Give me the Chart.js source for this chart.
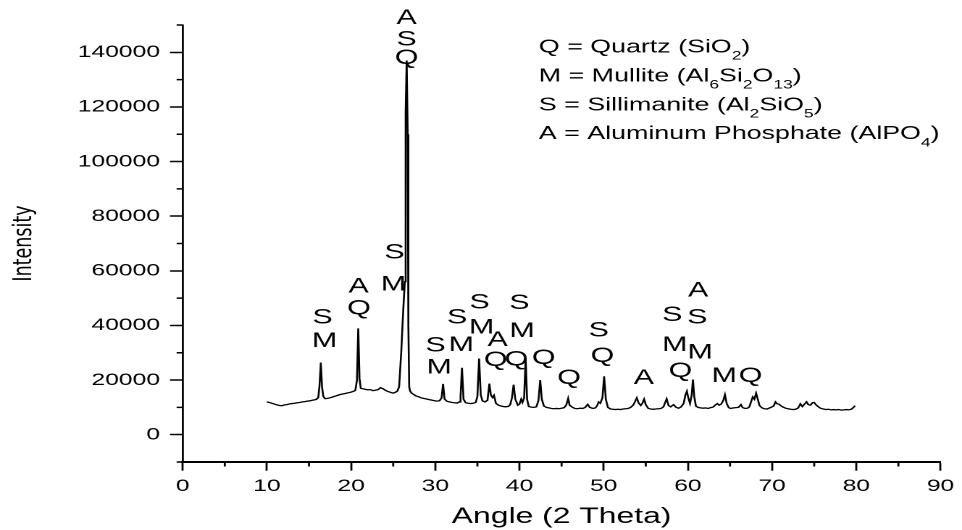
<!DOCTYPE html>
<html>
<head>
<meta charset="utf-8">
<title>XRD pattern</title>
<script src="https://cdn.jsdelivr.net/npm/chart.js@4.4.1/dist/chart.umd.min.js"></script>
<style>
  html, body { margin: 0; padding: 0; background: #fff; overflow: hidden; }
  /* the plot is laid out narrow and widened horizontally, giving the wide lettering */
  #wrap { position: absolute; left: 0; top: 0; width: 664px; height: 530px;
          transform: scaleX(1.4488); transform-origin: 0 0; }
  canvas { display: block; }
</style>
</head>
<body>
<div id="wrap"><canvas id="xrd" width="664" height="530"></canvas></div>
<script>
// Diffraction scan: 2-theta angle (degrees) and detector counts
const angle = [
  10.0, 10.3, 10.6, 10.9, 11.2, 11.5, 11.8, 12.1, 12.4, 12.7, 13.0, 13.3, 13.6, 13.9, 14.2, 14.5,
  14.8, 15.1, 15.4, 15.7, 15.9, 16.1, 16.25, 16.4, 16.55, 16.7, 16.9, 17.2, 17.5, 17.8, 18.1, 18.4,
  18.7, 19.0, 19.3, 19.6, 19.9, 20.2, 20.5, 20.7, 20.85, 21.0, 21.15, 21.4, 21.7, 22.0, 22.3, 22.6,
  22.9, 23.2, 23.5, 23.8, 24.1, 24.4, 24.7, 25.0, 25.3, 25.5, 25.7, 25.95, 26.2, 26.38, 26.48, 26.6,
  26.72, 26.8, 26.9, 27.0, 27.2, 27.4, 27.7, 28.0, 28.3, 28.6, 28.9, 29.2, 29.5, 29.8, 30.1, 30.5,
  30.75, 30.92, 31.1, 31.4, 31.7, 32.0, 32.3, 32.6, 32.85, 33.0, 33.17, 33.35, 33.6, 33.9, 34.2, 34.5,
  34.8, 35.0, 35.2, 35.4, 35.6, 35.9, 36.2, 36.42, 36.6, 36.8, 36.97, 37.2, 37.5, 37.8, 38.1, 38.4,
  38.7, 38.9, 39.1, 39.3, 39.5, 39.8, 40.0, 40.2, 40.35, 40.55, 40.73, 40.9, 41.1, 41.4, 41.7, 42.0,
  42.25, 42.46, 42.65, 42.9, 43.2, 43.5, 43.8, 44.1, 44.4, 44.7, 45.0, 45.3, 45.55, 45.78, 45.95, 46.3,
  46.6, 46.9, 47.2, 47.5, 47.8, 48.1, 48.35, 48.7, 49.0, 49.2, 49.4, 49.6, 49.85, 50.05, 50.25, 50.5,
  50.8, 51.1, 51.4, 51.7, 52.0, 52.3, 52.6, 52.9, 53.2, 53.5, 53.7, 53.93, 54.15, 54.4, 54.6, 54.8,
  55.0, 55.3, 55.6, 55.9, 56.2, 56.5, 56.8, 57.1, 57.3, 57.48, 57.7, 57.95, 58.3, 58.6, 58.9, 59.2,
  59.5, 59.7, 59.88, 60.05, 60.25, 60.45, 60.6, 60.75, 60.95, 61.2, 61.5, 61.8, 62.1, 62.4, 62.7, 63.0,
  63.3, 63.5, 63.7, 63.95, 64.2, 64.4, 64.6, 64.85, 65.1, 65.4, 65.7, 66.0, 66.3, 66.5, 66.8, 67.1,
  67.3, 67.5, 67.7, 67.9, 68.1, 68.3, 68.5, 68.8, 69.1, 69.4, 69.7, 70.0, 70.2, 70.4, 70.6, 70.8,
  71.0, 71.3, 71.6, 71.9, 72.2, 72.5, 72.8, 73.1, 73.35, 73.6, 73.85, 74.1, 74.3, 74.55, 74.8, 75.0,
  75.2, 75.5, 75.8, 76.1, 76.4, 76.7, 77.0, 77.3, 77.6, 77.9, 78.2, 78.5, 78.8, 79.1, 79.4, 79.6,
  79.86
];
const intensity = [
  12000, 11800, 11500, 11200, 10900, 10700, 10600, 10900, 11000, 11300, 11400, 11500, 11700, 11800, 12000, 12100,
  12300, 12400, 12600, 12800, 13000, 13600, 18000, 26400, 17500, 14000, 13200, 13300, 13500, 13800, 14100, 14400,
  14700, 14900, 15100, 15300, 15500, 15800, 16200, 20000, 38900, 20500, 17000, 16800, 16600, 16400, 16500, 16100,
  16300, 16500, 17200, 16800, 16200, 15800, 15500, 15200, 15600, 16000, 17500, 30000, 46000, 56000, 118000, 137000,
  110000, 40000, 17500, 16000, 15200, 14800, 14200, 13900, 13500, 13300, 13100, 12900, 12700, 12500, 12300, 12400,
  13500, 18600, 13000, 12200, 12000, 11800, 11700, 11600, 12000, 14000, 24500, 13000, 11700, 11500, 11400, 11500,
  11800, 14000, 27900, 14500, 12400, 12000, 12600, 18700, 14500, 13600, 14400, 11500, 10800, 10500, 10300, 10200,
  10400, 11000, 13500, 18300, 13000, 10800, 11200, 13000, 11800, 13500, 28200, 13000, 10300, 10100, 10000, 10200,
  12500, 20000, 13000, 10500, 10000, 9800, 9600, 9500, 9600, 9500, 9700, 9900, 10800, 13300, 10800, 10000,
  9600, 9500, 9700, 9600, 10000, 11100, 10000, 9600, 9800, 10500, 12000, 11500, 13500, 21400, 13000, 10000,
  9400, 9300, 9200, 9300, 9200, 9400, 9500, 9600, 10000, 10800, 12000, 13500, 11600, 10700, 11500, 13000,
  11000, 9600, 9400, 9300, 9400, 9500, 9600, 10200, 11800, 13100, 10700, 10200, 11000, 10000, 9700, 10200,
  11500, 14500, 15900, 13500, 11400, 14500, 20200, 14000, 10500, 10000, 9800, 9700, 9800, 9600, 9900, 10100,
  11000, 11400, 10800, 11200, 12500, 14600, 11500, 9900, 9600, 9800, 9900, 10000, 11000, 9900, 9600, 9700,
  10200, 12000, 13800, 13000, 15200, 13000, 10700, 9800, 9500, 9400, 9800, 10200, 10600, 12000, 11300, 11200,
  10700, 10100, 9700, 9500, 9300, 9200, 9300, 9800, 11300, 10300, 11200, 12000, 11000, 10800, 11700, 11800,
  11000, 10200, 9600, 9400, 9200, 9300, 9100, 9200, 9100, 9200, 9000, 9100, 9200, 9100, 9300, 9800,
  10600
];

// Axis ticks
const xTickValues = [0, 10, 20, 30, 40, 50, 60, 70, 80, 90];
const xMinorTicks = [5, 15, 25, 35, 45, 55, 65, 75, 85];
const yTickValues = [0, 20000, 40000, 60000, 80000, 100000, 120000, 140000];
const yMinorTicks = [-10000, 10000, 30000, 50000, 70000, 90000, 110000, 130000, 150000];

// Phase identification letters placed over the reflections (angle, intensity)
const phaseMark = [
  'S', 'M', 'A', 'Q', 'S', 'M', 'A', 'S', 'Q', 'S', 'M', 'S', 'M', 'S', 'M', 'A', 'Q',
  'S', 'M', 'Q', 'Q', 'Q', 'S', 'Q', 'A', 'S', 'M', 'Q', 'A', 'S', 'M', 'M', 'Q'
];
const phaseMarkAngle = [
  16.60, 16.84, 20.89, 20.93, 25.15, 25.04, 26.59, 26.59, 26.59, 30.04, 30.47, 32.59, 33.09, 35.25, 35.49, 37.40, 37.17,
  39.99, 40.31, 39.64, 42.87, 45.90, 49.42, 49.84, 54.77, 58.14, 58.44, 59.12, 61.22, 61.12, 61.46, 64.31, 67.45
];
const phaseMarkIntensity = [
  42800, 34200, 54100, 46200, 66700, 55000, 152500, 144700, 137900, 32600, 24500, 42900, 32800, 48400, 39100, 34600, 27300,
  48100, 37800, 27400, 28000, 20600, 38000, 28800, 20600, 43800, 32800, 23200, 52800, 42900, 30000, 21500, 21500
];

// Key to the phase letters; second item of each piece marks a subscript
const phaseKey = [
  [['Q = Quartz (SiO', false], ['2', true], [')', false]],
  [['M = Mullite (Al', false], ['6', true], ['Si', false], ['2', true], ['O', false], ['13', true], [')', false]],
  [['S = Sillimanite (Al', false], ['2', true], ['SiO', false], ['5', true], [')', false]],
  [['A = Aluminum Phosphate (AlPO', false], ['4', true], [')', false]]
];

const FONT = '"Liberation Sans", Arial, Helvetica, sans-serif';

const decorations = {
  id: 'decorations',
  afterDraw(chart) {
    const { ctx, chartArea, scales: { x, y } } = chart;
    ctx.save();
    ctx.strokeStyle = '#000';

    // minor tick marks
    ctx.lineWidth = 1.4;
    xMinorTicks.forEach(v => {
      const px = x.getPixelForValue(v);
      ctx.beginPath();
      ctx.moveTo(px, chartArea.bottom);
      ctx.lineTo(px, chartArea.bottom + 4.5);
      ctx.stroke();
    });
    ctx.lineWidth = 1.5;
    yMinorTicks.forEach(v => {
      const py = y.getPixelForValue(v);
      ctx.beginPath();
      ctx.moveTo(chartArea.left, py);
      ctx.lineTo(chartArea.left - 4.2, py);
      ctx.stroke();
    });

    // phase letters
    ctx.fillStyle = '#000';
    ctx.font = '21px ' + FONT;
    ctx.textAlign = 'center';
    ctx.textBaseline = 'middle';
    phaseMark.forEach((t, i) => {
      ctx.fillText(t, x.getPixelForValue(phaseMarkAngle[i]), y.getPixelForValue(phaseMarkIntensity[i]));
    });

    // key block in the upper right
    ctx.textAlign = 'left';
    ctx.textBaseline = 'alphabetic';
    const left = chartArea.left + 0.47 * (chartArea.right - chartArea.left);
    const firstBaseline = chartArea.top + 27.5;
    const lineGap = 28.9;
    phaseKey.forEach((pieces, row) => {
      let cx = left;
      const base = firstBaseline + row * lineGap;
      pieces.forEach(([text, sub]) => {
        ctx.font = (sub ? '12px ' : '18.5px ') + FONT;
        ctx.fillText(text, cx, sub ? base + 7.2 : base);
        cx += ctx.measureText(text).width;
      });
    });
    ctx.restore();
  }
};

const points = angle.map((a, i) => ({ x: a, y: intensity[i] }));

new Chart(document.getElementById('xrd'), {
  type: 'line',
  data: {
    datasets: [{
      data: points,
      borderColor: '#000',
      borderWidth: 1.3,
      pointRadius: 0,
      tension: 0,
      fill: false
    }]
  },
  options: {
    responsive: false,
    animation: false,
    devicePixelRatio: 2,
    layout: { padding: { top: 25, right: 9.7, bottom: 0, left: 0 } },
    plugins: {
      legend: { display: false },
      tooltip: { enabled: false }
    },
    scales: {
      x: {
        type: 'linear',
        min: 0,
        max: 90,
        afterBuildTicks: s => { s.ticks = xTickValues.map(v => ({ value: v })); },
        afterFit: s => { s.height = 68; },
        grid: { drawOnChartArea: false, drawTicks: true, tickLength: 8.7, tickWidth: 1.4, tickColor: '#000' },
        border: { display: true, color: '#000', width: 2 },
        ticks: {
          color: '#000',
          padding: 5.4,
          maxRotation: 0,
          autoSkip: false,
          font: { family: FONT, size: 17 },
          callback: v => String(v)
        },
        title: {
          display: true,
          text: 'Angle (2 Theta)',
          color: '#000',
          font: { family: FONT, size: 22 },
          padding: { top: 0, bottom: 0 }
        }
      },
      y: {
        type: 'linear',
        min: -10000,
        max: 150000,
        afterBuildTicks: s => { s.ticks = yTickValues.map(v => ({ value: v })); },
        afterFit: s => { s.width = 126.1; },
        grid: { drawOnChartArea: false, drawTicks: true, tickLength: 8.8, tickWidth: 1.5, tickColor: '#000' },
        border: { display: true, color: '#000', width: 1.4 },
        ticks: {
          color: '#000',
          padding: 6.9,
          autoSkip: false,
          font: { family: FONT, size: 17 },
          callback: v => String(v)
        },
        title: {
          display: true,
          text: 'Intensity',
          color: '#000',
          font: { family: '"DejaVu Sans", sans-serif', size: 17.5 },
          padding: { top: 6.7, bottom: 0 }
        }
      }
    }
  },
  plugins: [decorations]
});
</script>
</body>
</html>
